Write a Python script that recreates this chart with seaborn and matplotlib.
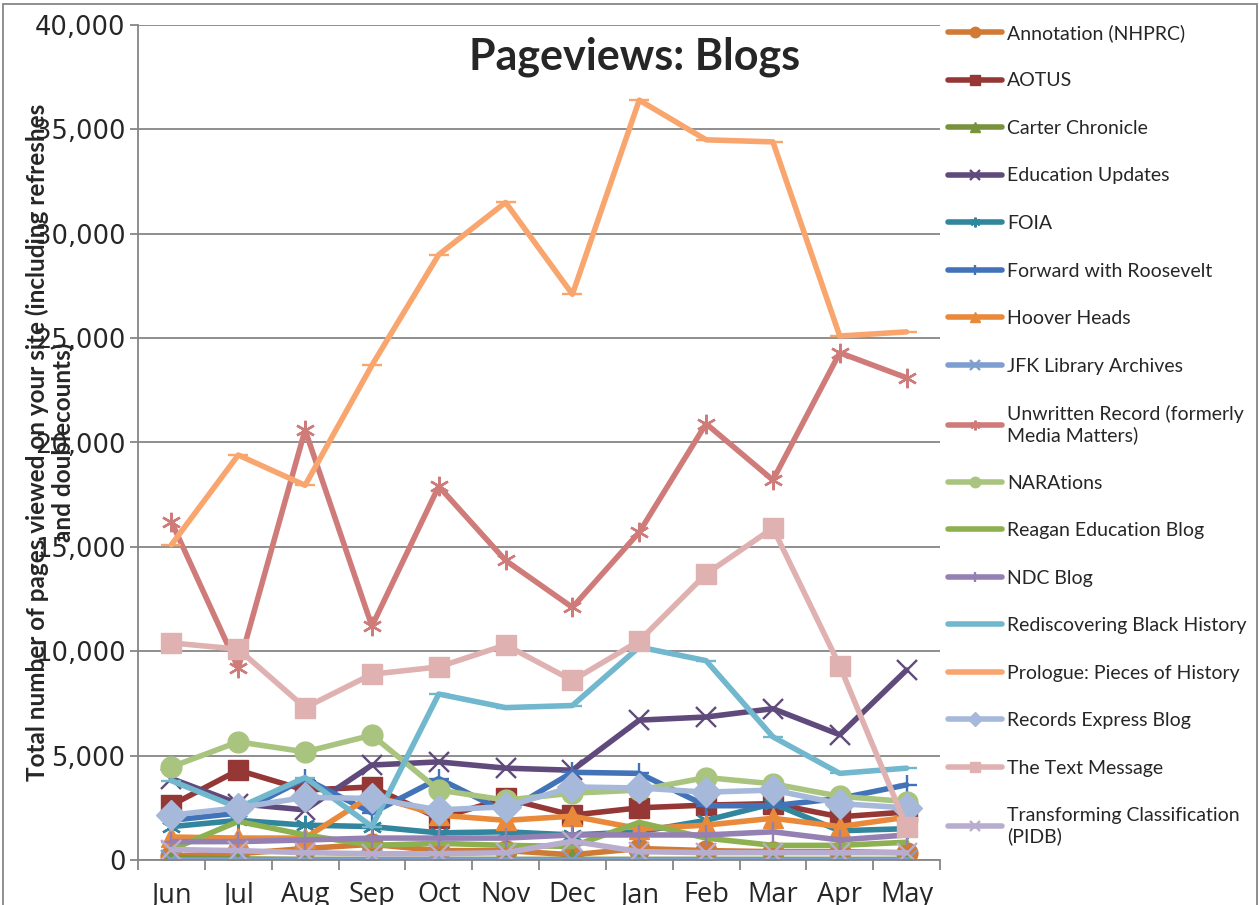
import matplotlib
matplotlib.use('Agg')
import matplotlib.pyplot as plt
import seaborn as sns
import numpy as np
from matplotlib.patches import Rectangle
from matplotlib.ticker import FuncFormatter

months = ['Jun', 'Jul', 'Aug', 'Sep', 'Oct', 'Nov', 'Dec', 'Jan', 'Feb', 'Mar', 'Apr', 'May']

blogs = ['Annotation (NHPRC)', 'AOTUS', 'Carter Chronicle', 'Education Updates', 'FOIA',
         'Forward with Roosevelt', 'Hoover Heads', 'JFK Library Archives',
         'Unwritten Record (formerly\nMedia Matters)', 'NARAtions', 'Reagan Education Blog',
         'NDC Blog', 'Rediscovering Black History', 'Prologue: Pieces of History',
         'Records Express Blog', 'The Text Message', 'Transforming Classification\n(PIDB)']

# pageviews per month
annotation = [200, 300, 550, 750, 450, 450, 250, 550, 450, 400, 400, 350]
aotus = [2630, 4300, 3350, 3500, 2000, 2950, 2150, 2500, 2630, 2700, 2070, 2300]
carter = [100, 50, 30, 30, 30, 30, 30, 30, 30, 30, 30, 30]
education = [3900, 2700, 2400, 4550, 4700, 4400, 4300, 6700, 6850, 7250, 6000, 9100]
foia = [1600, 1900, 1670, 1600, 1300, 1350, 1200, 1350, 1900, 2700, 1400, 1500]
forward = [1900, 2250, 3900, 2250, 3900, 2300, 4200, 4150, 2600, 2600, 2950, 3600]
hoover = [1100, 1050, 1050, 3100, 2150, 1900, 2100, 1500, 1670, 2000, 1600, 2050]
jfk = [20, 20, 20, 20, 20, 20, 20, 20, 20, 20, 20, 20]
unwritten = [16200, 9200, 20600, 11200, 17900, 14350, 12100, 15700, 20900, 18200, 24300, 23100]
narations = [4460, 5660, 5180, 5980, 3350, 2870, 3200, 3350, 3950, 3650, 3050, 2800]
reagan = [500, 1850, 1200, 700, 800, 700, 650, 1800, 1050, 700, 700, 850]
ndc = [880, 880, 960, 1050, 1050, 1050, 1200, 1200, 1200, 1350, 960, 1200]
black_history = [3800, 2500, 3950, 1600, 7950, 7300, 7400, 10200, 9550, 5900, 4150, 4400]
prologue = [15100, 19400, 17950, 23700, 29000, 31500, 27100, 36400, 34500, 34400, 25100, 25300]
records_express = [2150, 2500, 3000, 2950, 2400, 2550, 3500, 3450, 3250, 3350, 2700, 2500]
text_message = [10400, 10100, 7300, 8900, 9250, 10300, 8600, 10500, 13700, 15900, 9300, 1600]
transforming = [500, 450, 350, 300, 300, 350, 900, 400, 350, 350, 350, 350]

values = [annotation, aotus, carter, education, foia, forward, hoover, jfk, unwritten,
          narations, reagan, ndc, black_history, prologue, records_express, text_message,
          transforming]

colors = ['#D07A36', '#953735', '#77933C', '#604A7B', '#31859C', '#4273B9', '#E9893A',
          '#7F9ED0', '#CF7B79', '#A9C47F', '#8DB050', '#9580B3', '#71B7CD', '#F9A56E',
          '#A6B9DB', '#DFB2B1', '#B9ADCF']
markers = ['o', 's', '^', 'x', (6, 2, 0), '+', '^', 'x', (6, 2, 0), 'o', '', '+', '_',
           '_', 'D', 's', 'x']

sns.set_theme(style='white')
plt.rcParams['font.family'] = ['Lato', 'DejaVu Sans']

fig = plt.figure(figsize=(12.59, 9.05), dpi=100)
ax = fig.add_axes([138 / 1259, 45 / 905, 802 / 1259, 835 / 905])

for name, vals, color, marker in zip(blogs, values, colors, markers):
    filled = marker in ('o', 's', '^', 'D')
    sns.lineplot(x=months, y=vals, ax=ax, sort=False, color=color, linewidth=4,
                 marker=marker if marker else None, markersize=15 if filled else 14,
                 markeredgecolor=color, markeredgewidth=1 if filled else 1.7,
                 label=name)

# axes styling, Excel-like
ax.set_xlim(-0.5, 11.5)
ax.set_ylim(0, 40000)
ax.set_yticks(np.arange(0, 40001, 5000))
ax.yaxis.set_major_formatter(FuncFormatter(lambda v, p: f'{int(v):,}'))
ax.set_xticks(range(12))
ax.set_xticklabels(months)
ax.set_xticks(np.arange(-0.5, 12, 1), minor=True)
ax.set_xlabel('')
ax.set_ylabel('')

grey = '#868686'
ax.yaxis.grid(True, color=grey, linewidth=1.3)
ax.set_axisbelow(True)
for side in ['top', 'right']:
    ax.spines[side].set_visible(False)
for side in ['left', 'bottom']:
    ax.spines[side].set_color(grey)
    ax.spines[side].set_linewidth(1.3)

ax.tick_params(axis='y', which='major', left=True, direction='out', length=6, width=1.3,
               color=grey, labelsize=18.5, pad=3)
ax.tick_params(axis='x', which='major', bottom=True, length=0, labelsize=19.5, pad=15)
ax.tick_params(axis='x', which='minor', bottom=True, direction='out', length=7, width=1.3,
               color=grey)
for lbl in ax.get_yticklabels():
    lbl.set_family('DejaVu Sans')
for lbl in ax.get_xticklabels():
    lbl.set_family('Open Sans')

ax.legend(loc='upper left', bbox_to_anchor=(948 / 1259, 1 - 24 / 905),
          bbox_transform=fig.transFigure, frameon=False, fontsize=14,
          handlelength=2.8, handletextpad=0.25, labelspacing=1.57, markerscale=0.5,
          borderpad=0, borderaxespad=0)

fig.text(635 / 1259, 1 - 57 / 905, 'Pageviews: Blogs', ha='center', va='center',
         fontsize=31, fontweight='bold')
fig.text(50 / 1259, 1 - 442 / 905,
         'Total number of pages viewed on your site (including refreshes\nand doublecounts)',
         rotation=90, ha='center', va='center', multialignment='center',
         fontsize=17.5, fontweight='bold', linespacing=1.15)

# outer chart border
fig.patches.append(Rectangle((3 / 1259, -0.02), 1254 / 1259, 901 / 905 + 0.02,
                             transform=fig.transFigure, fill=False, edgecolor=grey,
                             linewidth=1.3))

fig.savefig('out.png', dpi=100)
